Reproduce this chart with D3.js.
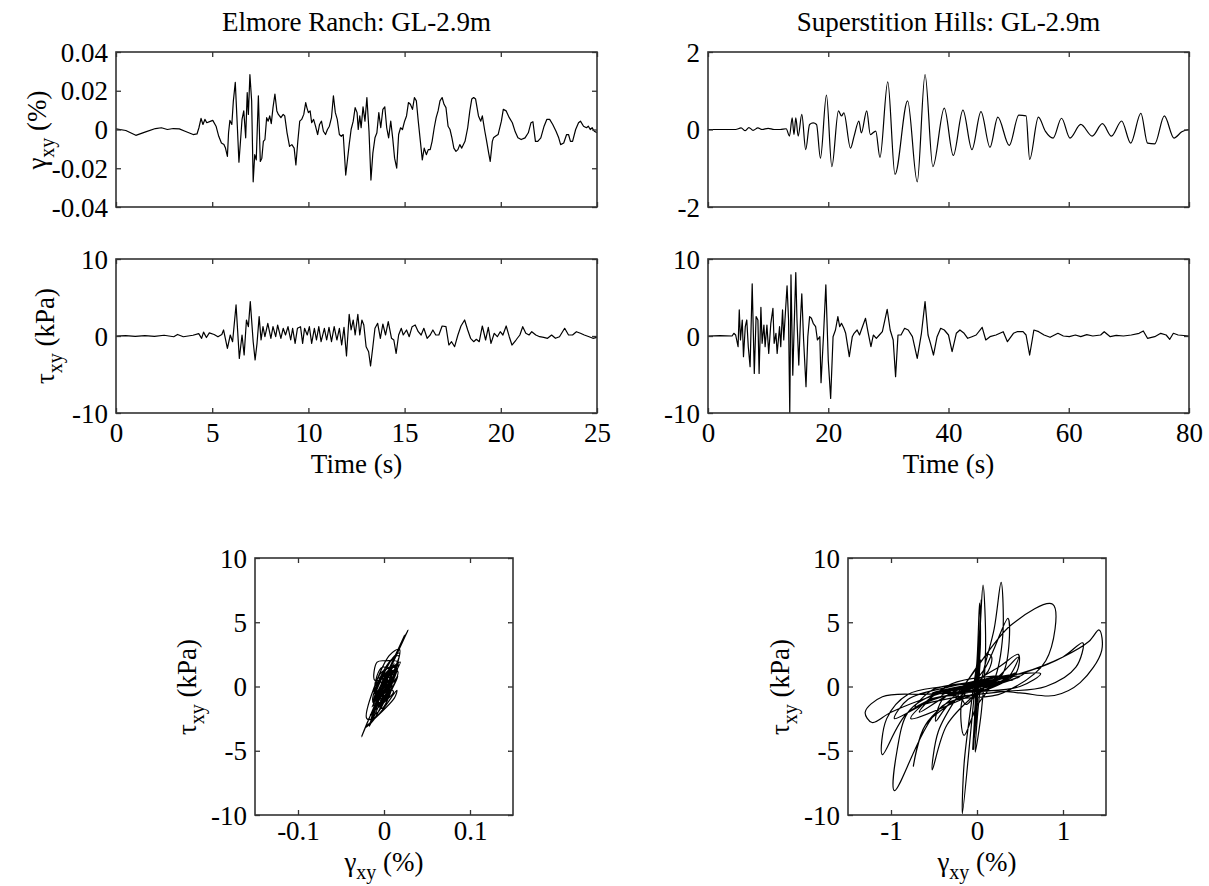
<!DOCTYPE html>
<html>
<head>
<meta charset="utf-8">
<script src="https://cdn.jsdelivr.net/npm/d3@7"></script>
<style>
body { margin: 0; background: #fff; }
text { font-family: "Liberation Serif", "Times New Roman", serif; fill: #000; }
</style>
</head>
<body>
<svg id="fig" width="1209" height="886" font-family="Liberation Serif, serif"></svg>
<script>
// ---- data ----
// Elmore Ranch, shear strain (%) vs time (s)
var erGamma = [[0,0.0003],[0.51,-0.0005],[1.03,-0.0030],[1.54,-0.0012],[2.05,0.0005],[2.36,0.0009],[2.67,0.0],[2.98,0.0005],[3.29,0.0003],[3.59,-0.0009],[4.01,-0.0026],[4.21,-0.0023],[4.31,0.0009],[4.42,0.0057],[4.52,0.0026],[4.62,0.0052],[4.72,0.0035],[4.93,0.0043],[5.03,0.0047],[5.20,0.0017],[5.34,-0.0035],[5.48,-0.0070],[5.61,-0.0078],[5.69,-0.0096],[5.79,-0.0139],[5.85,-0.0017],[5.92,0.0047],[6.02,0.0026],[6.10,0.0148],[6.20,0.0243],[6.31,0.0009],[6.39,-0.0169],[6.47,-0.0061],[6.55,0.0052],[6.64,0.0096],[6.68,0.0043],[6.74,-0.0043],[6.82,0.0191],[6.88,0.0078],[6.96,0.0283],[7.05,0.0148],[7.13,-0.0270],[7.21,-0.0130],[7.29,-0.0157],[7.40,0.0174],[7.50,-0.0165],[7.58,-0.0148],[7.66,-0.0061],[7.74,-0.0052],[7.83,0.0061],[7.91,0.0043],[7.99,0.0070],[8.07,0.0030],[8.16,0.0113],[8.26,0.0183],[8.36,0.0096],[8.44,0.0078],[8.57,0.0061],[8.69,0.0078],[8.77,0.0070],[8.89,-0.0017],[9.02,-0.0087],[9.14,-0.0078],[9.26,-0.0096],[9.35,-0.0183],[9.45,-0.0061],[9.55,0.0043],[9.65,0.0052],[9.76,0.0078],[9.86,0.0139],[9.92,0.0113],[10.00,0.0087],[10.09,0.0096],[10.17,0.0035],[10.27,0.0052],[10.37,0.0017],[10.48,-0.0026],[10.58,0.0026],[10.68,0.0043],[10.78,-0.0009],[10.89,-0.0026],[10.99,0.0],[11.09,0.0017],[11.20,0.0061],[11.30,0.0174],[11.40,0.0087],[11.50,0.0052],[11.61,-0.0026],[11.71,-0.0035],[11.81,-0.0026],[11.94,-0.0235],[12.02,-0.0165],[12.12,-0.0078],[12.22,0.0],[12.33,0.0043],[12.43,0.0113],[12.53,0.0087],[12.59,0.0],[12.67,0.0070],[12.74,0.0009],[12.84,0.0117],[12.94,0.0043],[13.04,0.0165],[13.15,-0.0009],[13.25,-0.0261],[13.35,-0.0122],[13.46,-0.0043],[13.56,-0.0017],[13.66,0.0087],[13.76,0.0009],[13.87,0.0104],[13.97,0.0117],[14.07,0.0009],[14.17,-0.0043],[14.28,0.0043],[14.38,-0.0043],[14.48,-0.0148],[14.59,-0.0200],[14.69,-0.0026],[14.79,0.0009],[14.89,0.0],[15.00,0.0043],[15.10,0.0070],[15.20,0.0139],[15.30,0.0130],[15.41,0.0104],[15.51,0.0165],[15.61,0.0148],[15.71,0.0043],[15.82,-0.0061],[15.92,-0.0157],[16.02,-0.0096],[16.13,-0.0130],[16.23,-0.0104],[16.33,-0.0104],[16.43,-0.0061],[16.54,0.0009],[16.64,0.0061],[16.74,0.0096],[16.84,0.0148],[16.95,0.0165],[17.05,0.0130],[17.15,0.0113],[17.26,0.0017],[17.36,0.0],[17.46,-0.0043],[17.56,-0.0096],[17.67,-0.0113],[17.77,-0.0104],[17.87,-0.0078],[17.97,-0.0096],[18.14,-0.0061],[18.28,0.0009],[18.39,0.0096],[18.49,0.0157],[18.59,0.0165],[18.69,0.0157],[18.84,0.0070],[18.96,0.0043],[19.04,0.0070],[19.17,-0.0009],[19.25,-0.0052],[19.37,-0.0122],[19.45,-0.0165],[19.56,-0.0061],[19.62,-0.0043],[19.72,-0.0035],[19.86,-0.0026],[20.03,0.0043],[20.13,0.0104],[20.28,0.0096],[20.44,0.0061],[20.60,0.0035],[20.75,-0.0012],[20.89,-0.0043],[21.06,-0.0052],[21.26,-0.0043],[21.43,-0.0017],[21.57,0.0035],[21.67,0.0040],[21.80,-0.0061],[21.92,-0.0061],[22.08,-0.0043],[22.25,0.0017],[22.39,0.0052],[22.54,0.0052],[22.70,0.0026],[22.87,-0.0009],[23.01,-0.0043],[23.11,-0.0078],[23.27,-0.0070],[23.42,-0.0026],[23.52,-0.0026],[23.62,-0.0061],[23.73,-0.0061],[23.89,0.0],[24.04,0.0035],[24.14,0.0043],[24.30,0.0017],[24.45,0.0009],[24.55,0.0017],[24.65,0.0],[24.75,0.0009],[24.86,-0.0009],[25.00,-0.0017]];

// Elmore Ranch, shear stress (kPa) vs time (s)
var erTau = [[0,0],[0.5,0.05],[1,-0.05],[1.5,0.05],[2,-0.05],[2.5,0.1],[3,-0.1],[3.2,0.2],[3.5,-0.1],[4,0.1],[4.3,0.3],[4.45,-0.3],[4.55,0.5],[4.7,-0.2],[4.85,0.4],[5.1,0.2],[5.3,-0.1],[5.5,0.2],[5.59,0.78],[5.79,-1.61],[5.94,0.13],[6.06,-0.74],[6.24,4.03],[6.41,-2.91],[6.55,0.13],[6.66,-2.47],[6.78,2.08],[6.88,1.21],[6.98,4.47],[7.13,-0.74],[7.23,-3.12],[7.33,-0.95],[7.44,2.52],[7.54,-0.52],[7.64,1.21],[7.74,-0.09],[7.89,1.65],[8.05,-0.30],[8.16,1.21],[8.30,-0.09],[8.40,1.43],[8.57,-0.30],[8.69,1.00],[8.81,0.13],[8.94,1.21],[9.08,-0.52],[9.18,1.00],[9.31,-0.95],[9.43,1.00],[9.59,1.21],[9.70,-0.95],[9.80,1.00],[9.94,0.13],[10.05,1.21],[10.17,-0.95],[10.31,1.00],[10.42,-0.52],[10.54,1.21],[10.66,-0.74],[10.83,1.00],[10.95,-0.52],[11.07,1.13],[11.20,-0.74],[11.34,1.21],[11.48,-0.52],[11.61,1.00],[11.73,-1.17],[11.85,1.13],[11.98,-2.60],[12.12,2.82],[12.22,0.78],[12.33,2.08],[12.43,0.13],[12.57,2.82],[12.67,0.13],[12.78,2.08],[12.88,1.43],[13.00,-1.39],[13.13,-2.04],[13.23,-3.90],[13.35,-1.39],[13.46,1.00],[13.60,1.65],[13.74,-0.30],[13.87,1.56],[14.01,0.13],[14.15,1.87],[14.32,-0.30],[14.44,-0.52],[14.56,-2.26],[14.69,0.13],[14.83,1.00],[14.93,0.13],[15.10,0.78],[15.24,-0.09],[15.39,1.21],[15.55,1.43],[15.71,0.56],[15.86,0.13],[16.00,1.00],[16.17,-0.30],[16.33,0.13],[16.47,0.78],[16.62,0.13],[16.78,0.13],[16.95,1.30],[17.15,1.21],[17.30,-1.17],[17.44,-0.74],[17.60,-1.39],[17.77,0.13],[17.93,1.30],[18.12,2.08],[18.28,0.78],[18.43,-0.30],[18.59,-0.74],[18.73,-0.43],[18.88,-0.74],[19.04,1.30],[19.21,-0.52],[19.35,1.13],[19.49,-0.95],[19.66,0.35],[19.82,-0.09],[19.97,0.56],[20.11,0.13],[20.28,1.30],[20.44,-0.09],[20.58,-1.17],[20.79,-0.52],[20.99,0.13],[21.14,1.21],[21.30,0.35],[21.47,0.13],[21.61,0.56],[21.82,0.13],[22.02,-0.09],[22.23,-0.17],[22.43,-0.30],[22.64,0.13],[22.84,-0.30],[23.05,-0.09],[23.32,1.00],[23.52,0.13],[23.73,0.13],[23.93,0.56],[24.14,0.35],[24.34,0.13],[24.59,-0.09],[24.79,-0.30],[25.00,-0.17]];

// Superstition Hills, shear strain (%) vs time (s)
var shGamma = [[0,0],[4.6,0],[5.5,0.04],[6.2,-0.03],[6.8,0.05],[7.5,-0.02],[8.3,0.04],[9,0],[10,0.03],[11,0],[12,0],[13,0.02],[13.55,-0.17],[14.0,0.30],[14.3,-0.13],[14.6,0.30],[15.0,-0.17],[15.6,0.39],[16.25,-0.52],[16.9,0.13],[17.5,0.17],[18.05,0.13],[18.7,-0.74],[19.7,0.89],[20.6,-0.96],[21.7,0.48],[22.2,0.35],[22.6,0.43],[23.7,-0.48],[24.3,-0.17],[25.1,0.22],[25.5,-0.09],[26.4,0.48],[27.0,-0.13],[27.9,-0.04],[28.6,-0.72],[29.9,1.23],[31.1,-1.16],[33.2,0.74],[34.8,-1.35],[36.1,1.42],[37.4,-0.96],[39.3,0.55],[40.8,-0.67],[42.4,0.50],[43.9,-0.52],[45.4,0.46],[46.9,-0.46],[48.2,0.32],[50.1,-0.41],[51.7,0.37],[52.9,0.35],[53.5,-0.77],[54.95,0.32],[56.1,-0.04],[57.4,-0.22],[58.8,0.29],[60.2,-0.22],[62.0,0.13],[63.9,-0.17],[65.6,0.15],[67.1,-0.17],[68.8,0.22],[70.3,-0.35],[72.0,0.42],[73.1,-0.35],[74.3,-0.37],[75.9,0.35],[77.5,-0.22],[78.8,-0.06],[80,0]];

// Superstition Hills, shear stress (kPa) vs time (s)
var shTau = [[0,0],[2,0.05],[4,0],[4.3,0.35],[4.6,0.13],[5.0,-1.39],[5.2,3.38],[5.4,-0.52],[5.7,2.08],[5.9,-2.69],[6.2,1.21],[6.45,2.08],[6.7,-1.39],[7.0,-3.99],[7.35,6.77],[7.7,-4.86],[8.0,2.52],[8.3,2.08],[8.5,-4.86],[8.8,3.73],[9.0,-0.95],[9.3,1.43],[9.5,-1.39],[9.8,1.43],[10.1,-2.26],[10.45,1.65],[10.8,3.60],[11.0,-0.95],[11.3,0.35],[11.5,-2.26],[11.9,1.21],[12.1,-1.39],[12.4,3.38],[12.6,-0.52],[12.9,3.38],[13.15,6.51],[13.4,2.08],[13.6,-9.98],[13.8,7.94],[14.1,-5.08],[14.3,0.35],[14.6,8.24],[14.8,2.08],[15.1,-3.77],[15.4,2.52],[15.6,5.47],[15.9,-0.52],[16.3,-6.59],[16.6,-0.09],[16.9,2.52],[17.2,2.30],[17.5,1.65],[17.9,1.21],[18.2,-0.52],[18.6,-0.09],[18.8,-6.07],[19.2,-0.09],[19.6,6.64],[20.0,-3.12],[20.4,-8.11],[20.8,-0.09],[21.2,0.78],[21.6,2.52],[21.9,1.21],[22.2,1.65],[22.6,1.00],[22.9,0.35],[23.5,-2.69],[24.0,-0.09],[24.3,0.35],[24.8,0.78],[25.2,0.13],[25.6,1.00],[26.2,2.30],[26.6,0.56],[27.1,-1.39],[27.5,0.13],[28.0,-0.30],[28.5,0.13],[29.0,0.56],[29.8,3.47],[30.3,0.78],[30.8,-0.52],[31.2,-5.29],[31.6,0.13],[32.1,0.13],[32.7,1.00],[33.3,0.78],[34.0,-0.09],[34.8,-2.91],[35.5,0.35],[36.1,4.47],[36.6,0.13],[37.0,-0.95],[37.5,-2.47],[38.1,-0.09],[38.7,1.00],[39.3,0.78],[40.0,0.13],[40.6,-2.04],[41.3,0.35],[41.9,0.78],[42.6,0.35],[43.2,-0.30],[43.9,-0.09],[44.6,0.13],[45.6,1.13],[46.2,-0.52],[46.9,-0.09],[47.9,0.13],[49.1,0.56],[49.8,-0.74],[50.8,0.35],[51.4,0.56],[52.4,0.56],[52.9,0.13],[53.5,-2.47],[54.2,0.78],[55.0,0.56],[55.9,0.13],[56.9,-0.17],[58.2,0.35],[59.1,0],[60.1,-0.09],[61.1,0.13],[62.0,-0.09],[63.0,0.17],[64.0,0],[65.3,0.13],[65.9,0.56],[66.9,-0.09],[67.9,0.09],[69.1,0],[70.4,0.13],[71.7,0.35],[72.4,0.65],[73.1,-0.30],[74.3,-0.09],[75.3,0.35],[76.2,0.13],[76.8,-0.43],[77.4,0.35],[78.2,0.13],[80,0]];

// stress-strain loops [gamma (%), tau (kPa)]
var erLoop = [[0,0],[0.002,0.3],[-0.001,-0.2],[0.004,0.5],[-0.003,-0.4],[0.006,0.9],[-0.006,-0.8],[0.01,1.5],[-0.009,-1.2],[0.012,1.8],[-0.014,-1.6],[0.024,4.0],[0.012,2.2],[-0.016,-2.9],[-0.008,-1.0],[0.028,4.4],[0.015,2.6],[-0.026,-3.9],[-0.014,-2.0],[0.019,1.9],[0.008,1.3],[-0.017,-3.1],[-0.008,-1.8],[0.018,2.6],[0.01,2.2],[-0.012,-1.3],[-0.004,-1.2],[0.013,1.5],[0.004,1.2],[-0.01,-0.6],[-0.002,-0.9],[0.016,1.9],[0.002,2.0],[-0.008,1.9],[-0.011,0.5],[-0.005,0.5],[0.014,1.2],[0.004,0.9],[-0.012,-1.5],[-0.004,-1.4],[0.018,2.9],[0.006,2.4],[-0.02,-2.5],[-0.01,-2.4],[0.015,-0.3],[0.012,-0.9],[-0.022,-3.2],[-0.012,-2.6],[0.017,2.4],[0.006,1.9],[-0.013,-1.2],[-0.004,-1.5],[0.016,0.8],[0.009,0.2],[-0.011,-1.0],[-0.003,-0.6],[0.015,1.4],[0.004,1.4],[-0.006,0.8],[-0.002,0.2],[0.011,-0.4],[0.004,-1.0],[-0.016,-2.2],[-0.007,-2.0],[0.012,1.6],[0.002,1.3],[-0.009,-0.7],[-0.002,-0.9],[0.01,0.5],[0.003,0.7],[-0.007,-0.9],[0.002,-0.8],[0.016,1.2],[0.004,1.1],[-0.012,-0.3],[-0.006,-0.8],[0.008,0.6],[0.002,0.8],[-0.005,-0.5],[0.001,-0.7],[0.005,0.4],[0,0.5],[-0.004,-0.2],[0.002,-0.4],[0.006,0.5],[-0.002,0],[0.003,0.2],[0.009,1.1],[-0.003,0.6],[-0.01,-1.1],[0.001,-0.5],[0.011,0.9],[0.0,1.0],[-0.009,-0.4],[-0.001,-1.2],[0.008,0.2],[0.005,1.4],[-0.007,0.3],[-0.006,-1.5],[0.004,-0.3],[0.012,1.0],[-0.002,1.5],[-0.011,-0.2],[-0.003,-1.7],[0.009,-0.1],[0.007,0.8],[-0.005,-0.1],[-0.008,-0.9],[0.003,0.1],[0.004,0.6],[-0.003,-0.3],[0.002,0.1],[0,0]];

var shLoop = [[0,0],[0.01,0.2],[-0.01,-0.3],[0.02,1.5],[-0.02,-1.4],[0.03,3.4],[-0.02,-2.7],[0.04,2.1],[-0.03,-4.0],[0.05,6.8],[-0.04,-4.9],[0.02,2.5],[-0.05,-4.9],[0.03,3.7],[0,-0.9],[0.02,1.4],[-0.02,-2.3],[0.03,3.6],[-0.03,-2.3],[0.04,3.4],[0,-0.5],[0.04,3.4],[0.03,6.5],[0.0,2.0],[-0.08,-4.0],[-0.17,-9.9],[-0.15,-6.0],[-0.06,-1.0],[0.02,3.0],[0.07,7.9],[0.1,3.0],[0.05,-2.0],[-0.02,-5.1],[0.05,0.35],[0.2,4.5],[0.28,8.1],[0.3,4.0],[0.2,0.5],[0.0,-1.5],[-0.15,-3.8],[-0.17,-1.0],[0.1,1.5],[0.36,5.3],[0.3,1.0],[0.0,-0.5],[-0.35,-3.0],[-0.52,-6.5],[-0.45,-3.5],[-0.2,-0.5],[0.13,2.5],[0.17,2.3],[0.13,1.2],[-0.2,-0.8],[-0.6,-3.0],[-0.74,-6.2],[-0.6,-3.0],[-0.2,-0.3],[0.4,4.8],[0.88,6.4],[0.8,2.0],[0.3,-0.5],[-0.4,-1.5],[-0.96,-8.1],[-0.93,-5.0],[-0.8,-2.0],[-0.5,-0.6],[-0.1,0.2],[0.25,1.5],[0.48,2.5],[0.45,1.0],[0.1,-0.3],[-0.3,-1.2],[-0.48,-2.7],[-0.4,-1.0],[-0.1,0.1],[0.22,0.8],[0.0,0.2],[-0.09,-0.3],[0.2,0.5],[0.48,2.3],[0.35,0.6],[0.0,-0.6],[-0.13,-1.4],[-0.2,-0.8],[-0.5,-0.9],[-0.72,-1.6],[-0.5,-0.2],[0.0,0.3],[0.6,1.2],[1.0,2.3],[1.23,3.4],[1.15,1.5],[0.8,0.0],[0.3,-0.4],[-0.3,-0.9],[-0.8,-2.0],[-1.1,-5.3],[-1.05,-2.5],[-0.8,-0.6],[-0.4,0.0],[0.0,0.4],[0.4,0.9],[0.74,1.0],[0.5,0.0],[0.0,-0.4],[-0.6,-0.6],[-1.1,-0.8],[-1.3,-2.0],[-1.22,-2.8],[-1.0,-2.0],[-0.5,-0.7],[0.0,0.2],[0.5,1.0],[1.0,2.3],[1.3,3.5],[1.42,4.4],[1.45,2.8],[1.2,0.3],[0.9,-0.7],[0.5,-0.5],[0.0,-0.3],[-0.5,-1.0],[-0.96,-2.5],[-0.8,-1.0],[-0.3,0.0],[0.2,0.7],[0.55,1.0],[0.3,0.3],[-0.2,-0.2],[-0.67,-2.0],[-0.4,-0.2],[0.0,0.3],[0.5,0.8],[0.2,0.1],[-0.2,-0.2],[-0.52,-0.5],[-0.2,0.0],[0.2,0.4],[0.46,1.1],[0.2,0.1],[-0.2,-0.4],[-0.46,-0.5],[-0.1,0.1],[0.32,0.6],[0.0,-0.3],[-0.41,-0.7],[0.0,0.3],[0.37,0.6],[0.35,0.5],[0.0,-0.5],[-0.77,-2.5],[-0.3,0.2],[0.32,0.8],[0.0,0.2],[-0.22,-0.1],[0.29,0.3],[-0.22,-0.1],[0.13,0.2],[-0.17,-0.1],[0.15,0.6],[-0.17,-0.1],[0.22,0.2],[-0.35,-0.4],[0.42,0.5],[-0.35,-0.3],[-0.37,-0.4],[0.35,0.5],[-0.22,-0.4],[0,0]];

// tick values
var erTimeTicks = [0, 5, 10, 15, 20, 25];
var shTimeTicks = [0, 20, 40, 60, 80];
var erGammaTicks = [-0.04, -0.02, 0, 0.02, 0.04];
var shGammaTicks = [-2, 0, 2];
var tauTicks = [-10, 0, 10];
var loopTauTicks = [-10, -5, 0, 5, 10];
var erLoopGammaTicks = [-0.1, 0, 0.1];
var shLoopGammaTicks = [-1, 0, 1];

var svg = d3.select("#fig");
var FS = 27;
var SERIF = "Liberation Serif, Times New Roman, serif";
var clipId = 0;

function fmt(d) { return String(d); }

// draw a boxed matlab-style panel, returns scales
function panel(box, xDom, yDom, xTicks, yTicks, showX, xPad) {
    var x = d3.scaleLinear().domain(xDom).range([box.x0, box.x1]);
    var y = d3.scaleLinear().domain(yDom).range([box.y1, box.y0]);
    var g = svg.append("g");

    clipId++;
    svg.append("clipPath").attr("id", "c" + clipId)
        .append("rect")
        .attr("x", box.x0).attr("y", box.y0)
        .attr("width", box.x1 - box.x0).attr("height", box.y1 - box.y0);
    var dataG = g.append("g").attr("clip-path", "url(#c" + clipId + ")");

    var tk = 5;
    var bottom = g.append("g").attr("transform", "translate(0," + box.y1 + ")")
        .call(d3.axisBottom(x).tickValues(xTicks).tickSizeInner(-tk).tickSizeOuter(0)
            .tickPadding(xPad || 10).tickFormat(showX ? fmt : ""));
    g.append("g").attr("transform", "translate(0," + box.y0 + ")")
        .call(d3.axisTop(x).tickValues(xTicks).tickSizeInner(-tk).tickSizeOuter(0).tickFormat(""));
    var left = g.append("g").attr("transform", "translate(" + box.x0 + ",0)")
        .call(d3.axisLeft(y).tickValues(yTicks).tickSizeInner(-tk).tickSizeOuter(0)
            .tickPadding(8).tickFormat(fmt));
    g.append("g").attr("transform", "translate(" + box.x1 + ",0)")
        .call(d3.axisRight(y).tickValues(yTicks).tickSizeInner(-tk).tickSizeOuter(0).tickFormat(""));

    g.selectAll(".domain").remove();
    g.selectAll("g").attr("font-family", SERIF).attr("font-size", FS);
    g.selectAll(".tick line").attr("stroke", "#333").attr("stroke-width", 1.3);
    g.selectAll(".tick text").attr("font-family", SERIF).attr("font-size", FS).attr("fill", "#000");
    left.selectAll(".tick text").attr("dy", "0.34em");
    bottom.selectAll(".tick text").attr("dy", "0.70em");

    g.append("rect")
        .attr("x", box.x0).attr("y", box.y0)
        .attr("width", box.x1 - box.x0).attr("height", box.y1 - box.y0)
        .attr("fill", "none").attr("stroke", "#333").attr("stroke-width", 1.6);

    return { x: x, y: y, g: dataG };
}

function drawLine(p, data, curve) {
    p.g.append("path")
        .datum(data)
        .attr("fill", "none")
        .attr("stroke", "#000")
        .attr("stroke-width", 1.2)
        .attr("stroke-linejoin", "round")
        .attr("d", d3.line()
            .x(function(d) { return p.x(d[0]); })
            .y(function(d) { return p.y(d[1]); })
            .curve(curve || d3.curveLinear));
}

// label with a subscript: main + sub + rest
function subLabel(x, y, rotate, main, sub, rest) {
    var t = svg.append("text")
        .attr("text-anchor", "middle")
        .attr("font-family", SERIF)
        .attr("font-size", FS)
        .attr("transform", "translate(" + x + "," + y + ")" + (rotate ? " rotate(-90)" : ""));
    t.append("tspan").text(main);
    t.append("tspan").text(sub).attr("font-size", 20).attr("dy", 8);
    t.append("tspan").text(rest).attr("dy", -8);
}

function plainText(x, y, s) {
    svg.append("text").attr("x", x).attr("y", y)
        .attr("text-anchor", "middle")
        .attr("font-family", SERIF).attr("font-size", FS).text(s);
}

// ---- panels ----
var L = { x0: 116, x1: 597 }, R = { x0: 708, x1: 1189 };
var rowTop = { y0: 52, y1: 207 }, rowMid = { y0: 259, y1: 413 };

var p1 = panel({ x0: L.x0, x1: L.x1, y0: rowTop.y0, y1: rowTop.y1 }, [0, 25], [-0.04, 0.04], erTimeTicks, erGammaTicks, false);
drawLine(p1, erGamma);
var p2 = panel({ x0: R.x0, x1: R.x1, y0: rowTop.y0, y1: rowTop.y1 }, [0, 80], [-2, 2], shTimeTicks, shGammaTicks, false);
drawLine(p2, shGamma, d3.curveMonotoneX);
var p3 = panel({ x0: L.x0, x1: L.x1, y0: rowMid.y0, y1: rowMid.y1 }, [0, 25], [-10, 10], erTimeTicks, tauTicks, true);
drawLine(p3, erTau);
var p4 = panel({ x0: R.x0, x1: R.x1, y0: rowMid.y0, y1: rowMid.y1 }, [0, 80], [-10, 10], shTimeTicks, tauTicks, true);
drawLine(p4, shTau);

var p5 = panel({ x0: 255, x1: 513, y0: 558, y1: 815 }, [-0.15, 0.15], [-10, 10], erLoopGammaTicks, loopTauTicks, true, 6);
drawLine(p5, erLoop, d3.curveCatmullRom);
var p6 = panel({ x0: 848, x1: 1106, y0: 558, y1: 815 }, [-1.5, 1.5], [-10, 10], shLoopGammaTicks, loopTauTicks, true, 6);
drawLine(p6, shLoop, d3.curveCatmullRom);

// ---- titles and labels ----
plainText((L.x0 + L.x1) / 2, 31, "Elmore Ranch: GL-2.9m");
plainText((R.x0 + R.x1) / 2, 31, "Superstition Hills: GL-2.9m");
plainText((L.x0 + L.x1) / 2, 473, "Time (s)");
plainText((R.x0 + R.x1) / 2, 473, "Time (s)");

subLabel(46, 130, true, "\u03b3", "xy", " (%)");
subLabel(54, 336, true, "\u03c4", "xy", " (kPa)");
subLabel(196, 687, true, "\u03c4", "xy", " (kPa)");
subLabel(789, 687, true, "\u03c4", "xy", " (kPa)");
subLabel(384, 871, false, "\u03b3", "xy", " (%)");
subLabel(977, 871, false, "\u03b3", "xy", " (%)");
</script>
</body>
</html>
